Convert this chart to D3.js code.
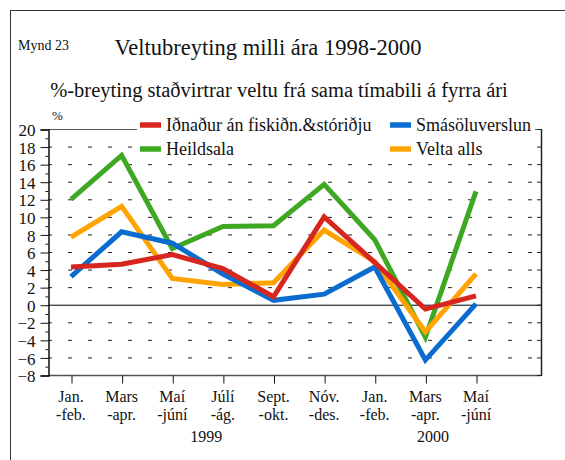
<!DOCTYPE html>
<html><head><meta charset="utf-8">
<script src="https://cdn.jsdelivr.net/npm/d3@7"></script>
<style>body{margin:0;background:#fff}svg{display:block}text{font-family:"Liberation Serif","Times New Roman",serif;fill:#111}</style>
</head><body><svg id="c" width="565" height="460"></svg>
<script>
const categories = ["Jan.|-feb.","Mars|-apr.","Maí|-júní","Júlí|-ág.","Sept.|-okt.","Nóv.|-des.","Jan.|-feb.","Mars|-apr.","Maí|-júní"];
const years = [{label:"1999", at:2.67},{label:"2000", at:7.15}];
const idnadur = [4.3, 4.6, 5.7, 4.1, 0.9, 10.0, 4.8, -0.5, 1.0];
const smasolu = [3.2, 8.3, 7.0, 3.5, 0.5, 1.2, 4.3, -6.3, 0.1];
const heildsala = [12.0, 17.0, 6.4, 8.9, 9.0, 13.7, 7.4, -3.7, 12.9];
const velta = [7.7, 11.2, 3.0, 2.3, 2.5, 8.5, 4.9, -3.1, 3.5];
const yTicks = [-8,-6,-4,-2,0,2,4,6,8,10,12,14,16,18,20];
const seriesNames = ["Iðnaður án fiskiðn.&stóriðju","Smásöluverslun","Heildsala","Velta alls"];
const colors = ["#d7261e","#0a6ccf","#3ea823","#ffa300"];

const FONT = "Liberation Serif";
const svg = d3.select("#c");
const L = 48, R = 541, T = 129, B = 375;
const x = d3.scalePoint().domain(d3.range(categories.length)).range([71, 476]);
const xl = d3.scaleLinear().domain([0, categories.length-1]).range([71, 476]);
const y = d3.scaleLinear().domain([-8, 20]).range([B, T]);

function txt(xp, yp, size, s, anchor) {
  return svg.append("text").attr("x",xp).attr("y",yp).attr("font-size",size)
    .attr("font-family",FONT).attr("fill","#111").attr("text-anchor",anchor||"start").text(s);
}

// frame
svg.append("rect").attr("x",10.5).attr("y",10.5).attr("width",600).attr("height",500)
  .attr("fill","none").attr("stroke","#333").attr("stroke-width",1);

// titles
txt(18, 50, 14, "Mynd 23");
txt(268, 55, 22.5, "Veltubreyting milli ára 1998-2000", "middle");
txt(279, 97, 20.5, "%-breyting staðvirtrar veltu frá sama tímabili á fyrra ári", "middle");
txt(52, 120, 13, "%");

// gridlines
const g = svg.append("g");
yTicks.filter(v => v !== 0 && v !== 20).forEach(v => {
  g.append("line").attr("x1",L).attr("x2",R).attr("y1",y(v)+0.5).attr("y2",y(v)+0.5)
   .attr("stroke","#222").attr("stroke-dasharray","4 16").attr("stroke-width",1);
});
g.append("line").attr("x1",L).attr("x2",R).attr("y1",y(20)+0.5).attr("y2",y(20)+0.5).attr("stroke","#555");
g.append("line").attr("x1",L).attr("x2",R).attr("y1",y(0)+0.5).attr("y2",y(0)+0.5).attr("stroke","#000");
g.append("line").attr("x1",L).attr("x2",R).attr("y1",B+0.5).attr("y2",B+0.5).attr("stroke","#555").attr("stroke-width",1.5);
// right axis
g.append("line").attr("x1",R+0.5).attr("x2",R+0.5).attr("y1",T).attr("y2",B+1).attr("stroke","#222").attr("stroke-width",1.5);
yTicks.forEach(v => g.append("line").attr("x1",R-4).attr("x2",R).attr("y1",y(v)+0.5).attr("y2",y(v)+0.5).attr("stroke","#222"));

// left axis
const yAxis = d3.axisLeft(y).tickValues(yTicks).tickSize(8).tickPadding(5).tickFormat(d3.format("d"));
const ya = svg.append("g").attr("transform",`translate(${L+0.5},0.5)`).call(yAxis);
ya.attr("font-family",FONT);
ya.select(".domain").attr("stroke","#111").attr("stroke-width",1.5);
ya.selectAll(".tick line").attr("stroke","#111");
ya.selectAll("text").attr("font-size",17).attr("font-family",FONT).attr("fill","#111").attr("dy","0.36em");
const yMinor = d3.axisLeft(y).tickValues(d3.range(-7,20,2)).tickSize(3).tickFormat("");
const ym = svg.append("g").attr("transform",`translate(${L+0.5},0.5)`).call(yMinor);
ym.select(".domain").remove();
ym.selectAll(".tick line").attr("stroke","#111");

// bottom axis
const xAxis = d3.axisBottom(x).tickSize(8).tickFormat("");
const xa = svg.append("g").attr("transform",`translate(0.5,${B+0.5})`).call(xAxis);
xa.select(".domain").remove();
xa.selectAll(".tick line").attr("stroke","#111");
categories.forEach((c,i) => {
  const parts = c.split("|");
  const t = svg.append("text").attr("x",x(i)).attr("y",402).attr("text-anchor","middle")
    .attr("font-size",16).attr("font-family",FONT).attr("fill","#111");
  t.append("tspan").attr("x",x(i)).text(parts[0]);
  t.append("tspan").attr("x",x(i)).attr("dy",18).text(parts[1]);
});
years.forEach(yr => txt(xl(yr.at), 442, 16, yr.label, "middle"));

// legend box
svg.append("rect").attr("x",137).attr("y",114).attr("width",398).attr("height",44).attr("fill","#fff");
const legendPos = [[140,125],[390,125],[140,149],[390,149]];
seriesNames.forEach((n,i) => {
  const [lx,ly] = legendPos[i];
  svg.append("line").attr("x1",lx).attr("x2",lx+21).attr("y1",ly).attr("y2",ly).attr("stroke",colors[i]).attr("stroke-width",5.5);
  txt(lx+26, ly+6, 18, n);
});

// lines
const all = [idnadur, smasolu, heildsala, velta];
const drawOrder = [2,3,1,0];
const line = d3.line().x((d,i)=>x(i)).y(d=>y(d));
drawOrder.forEach(k => {
  svg.append("path").datum(all[k]).attr("d",line).attr("fill","none")
    .attr("stroke",colors[k]).attr("stroke-width",5).attr("stroke-linejoin","miter").attr("stroke-linecap","butt");
});
</script></body></html>
